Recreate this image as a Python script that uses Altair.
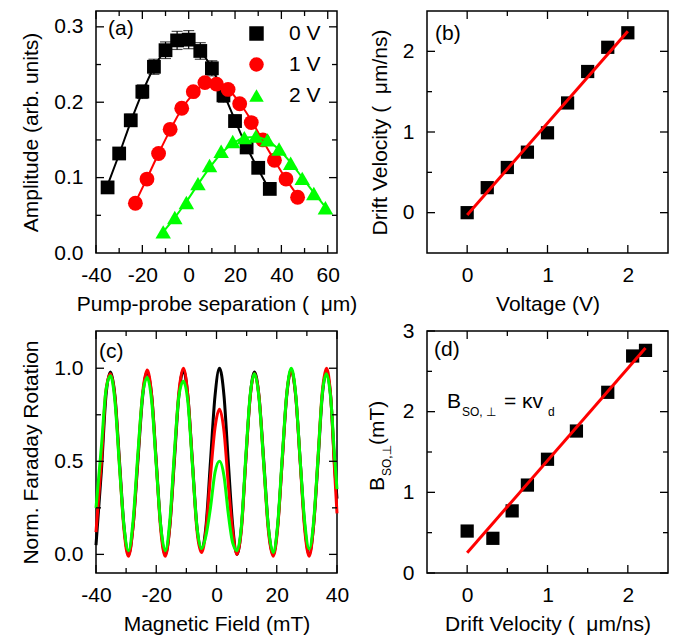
import altair as alt
import pandas as pd

FONT = "Liberation Sans, DejaVu Sans"
FS = 21
SER = ["0 V", "1 V", "2 V"]
COLS = ["#000000", "#ff0000", "#00ff00"]
SHAPES = ["square", "circle", "triangle-up"]
SIZES = [190, 220, 240]
NB = "\u00a0\u00a0"

# ---------------- panel (a) data ----------------
a_x = {
    "0 V": [-35, -30, -25, -20, -15, -10, -5, 0, 5, 10, 15, 20, 25, 30, 35],
    "1 V": [-23, -18, -13, -8, -3, 2, 7, 12, 17, 22, 27, 32, 37, 42, 47],
    "2 V": [-11, -6, -1, 4, 9, 14, 19, 24, 29, 34, 39, 44, 49, 54, 59],
}
a_y = {
    "0 V": [0.087, 0.132, 0.176, 0.214, 0.247, 0.269, 0.282, 0.283, 0.268, 0.245, 0.209, 0.175, 0.140, 0.113, 0.085],
    "1 V": [0.066, 0.098, 0.132, 0.164, 0.192, 0.214, 0.226, 0.224, 0.217, 0.198, 0.173, 0.150, 0.123, 0.098, 0.074],
    "2 V": [0.028, 0.047, 0.067, 0.092, 0.116, 0.135, 0.148, 0.153, 0.155, 0.150, 0.138, 0.119, 0.099, 0.079, 0.060],
}
a_err = {
    "0 V": [0.006, 0.007, 0.008, 0.009, 0.010, 0.011, 0.012, 0.012, 0.011, 0.010, 0.009, 0.008, 0.007, 0.006, 0.006],
    "1 V": [0.005, 0.005, 0.006, 0.006, 0.007, 0.007, 0.007, 0.007, 0.007, 0.007, 0.006, 0.006, 0.005, 0.005, 0.005],
    "2 V": [0.005, 0.005, 0.005, 0.005, 0.006, 0.006, 0.006, 0.006, 0.006, 0.006, 0.006, 0.005, 0.005, 0.005, 0.005],
}
a_fit = {
    "0 V": [0.090, 0.131, 0.174, 0.213, 0.246, 0.269, 0.281, 0.280, 0.268, 0.245, 0.212, 0.176, 0.141, 0.111, 0.083],
    "1 V": [0.067, 0.099, 0.132, 0.163, 0.191, 0.211, 0.224, 0.227, 0.218, 0.199, 0.176, 0.149, 0.123, 0.098, 0.076],
    "2 V": [0.028, 0.047, 0.068, 0.091, 0.113, 0.132, 0.145, 0.153, 0.154, 0.149, 0.137, 0.120, 0.100, 0.080, 0.061],
}

# ---------------- panel (b) data ----------------
b_volt = [0, 0.25, 0.5, 0.75, 1.0, 1.25, 1.5, 1.75, 2.0]
b_vd = [0.0, 0.31, 0.56, 0.75, 0.99, 1.36, 1.75, 2.05, 2.23]
b_fit_x = [0.0, 2.0]
b_fit_y = [-0.03, 2.25]

# ---------------- panel (c) data ----------------
c_x = [-40, -38.2, -36.7, -35.2, -33.7, -32.2, -30.7, -29.2, -27.7, -26.1, -24.5, -23.0,
       -21.5, -20.0, -18.5, -17.0, -15.5, -14.0, -12.5, -11.0, -9.5, -8.0, -6.5, -5.0,
       -3.5, -2.0, -0.5, 1.0, 2.5, 3.9, 5.4, 6.8, 8.3, 9.7, 11.2, 12.6, 14.1, 15.7, 17.2,
       18.8, 20.3, 21.8, 23.3, 24.8, 26.3, 27.8, 29.3, 30.8, 32.2, 33.7, 35.1, 36.5, 37.9,
       39.3, 40]
c_y = {
    "0 V": [0.05, 0.45, 0.85, 0.98, 0.85, 0.5, 0.15, 0.0, 0.15, 0.5, 0.85, 0.98,
            0.85, 0.5, 0.15, 0.0, 0.15, 0.5, 0.85, 0.99, 0.85, 0.5, 0.15, 0.02,
            0.15, 0.5, 0.85, 1.0, 0.85, 0.5, 0.15, 0.0, 0.15, 0.5, 0.85, 0.98, 0.85, 0.5, 0.15,
            0.0, 0.15, 0.5, 0.85, 0.99, 0.85, 0.5, 0.15, 0.0, 0.15, 0.5, 0.85, 0.98, 0.85,
            0.45, 0.30],
    "1 V": [0.12, 0.50, 0.88, 0.97, 0.84, 0.48, 0.13, -0.01, 0.15, 0.52, 0.87, 0.99,
            0.85, 0.49, 0.13, -0.01, 0.15, 0.52, 0.87, 1.0, 0.85, 0.49, 0.13, 0.01,
            0.13, 0.42, 0.68, 0.78, 0.66, 0.38, 0.12, 0.0, 0.14, 0.5, 0.85, 0.97, 0.85, 0.48, 0.13,
            -0.01, 0.14, 0.5, 0.86, 0.99, 0.85, 0.49, 0.13, -0.01, 0.15, 0.52, 0.87, 1.0, 0.85,
            0.42, 0.22],
    "2 V": [0.25, 0.58, 0.88, 0.96, 0.82, 0.47, 0.15, 0.02, 0.18, 0.54, 0.86, 0.95,
            0.82, 0.48, 0.15, 0.02, 0.18, 0.54, 0.85, 0.93, 0.82, 0.48, 0.15, 0.03,
            0.10, 0.25, 0.44, 0.50, 0.42, 0.22, 0.06, 0.02, 0.16, 0.52, 0.86, 0.97, 0.84, 0.48, 0.15,
            0.01, 0.16, 0.52, 0.86, 1.0, 0.86, 0.50, 0.17, 0.03, 0.17, 0.52, 0.86, 0.97, 0.84,
            0.50, 0.35],
}

# ---------------- panel (d) data ----------------
d_vd = [0.0, 0.32, 0.56, 0.75, 1.0, 1.36, 1.75, 2.06, 2.22]
d_b = [0.52, 0.43, 0.77, 1.09, 1.41, 1.76, 2.24, 2.69, 2.76]
d_fit_x = [0.0, 2.22]
d_fit_y = [0.25, 2.79]

W, H = 241, 242


def axis(values, title, fmt=None, expr=None, ext=None, lp=12, tp=8):
    kw = dict(values=values, grid=False, ticks=False, domain=False, labelFlush=False,
              labelPadding=lp, titlePadding=tp, labelOverlap=False, title=title)
    if fmt:
        kw["format"] = fmt
    if expr:
        kw["labelExpr"] = expr
    if ext is not None:
        kw["minExtent"] = ext
        kw["maxExtent"] = ext
    return alt.Axis(**kw)


def tick_layers(xs, ys, xa, ya, xmaj, xmin, ymaj, ymin, L=8, l=5):
    out = []
    for vals, ln in ((xmaj, L), (xmin, l)):
        base = alt.Chart(pd.DataFrame({"v": vals})).mark_rule(color="black", strokeWidth=1.3)
        xe = alt.X("v:Q", scale=xs, axis=xa)
        out.append(base.encode(x=xe, y=alt.value(H), y2=alt.value(H - ln)))
        out.append(base.encode(x=xe, y=alt.value(0), y2=alt.value(ln)))
    for vals, ln in ((ymaj, L), (ymin, l)):
        base = alt.Chart(pd.DataFrame({"v": vals})).mark_rule(color="black", strokeWidth=1.3)
        ye = alt.Y("v:Q", scale=ys, axis=ya)
        out.append(base.encode(y=ye, x=alt.value(0), x2=alt.value(ln)))
        out.append(base.encode(y=ye, x=alt.value(W), x2=alt.value(W - ln)))
    return out


def label(txt, x, y, size=FS, baseline="middle", angle=0):
    kw = dict(align="left", baseline=baseline, fontSize=size, font=FONT, color="black")
    if angle:
        kw["angle"] = angle
    return alt.Chart(pd.DataFrame({"t": [txt]})).mark_text(**kw).encode(
        text="t:N", x=alt.value(x), y=alt.value(y))


color_scale = alt.Scale(domain=SER, range=COLS)
shape_scale = alt.Scale(domain=SER, range=SHAPES)
LEG = dict(title=None, orient="none", legendX=150, legendY=12,
           labelFontSize=FS, labelFont=FONT, labelColor="black",
           symbolSize=210, rowPadding=9, labelOffset=22, padding=0, symbolStrokeWidth=0)

# ---------------- panel (a) ----------------
rows = []
for s in SER:
    for x, y, e, f in zip(a_x[s], a_y[s], a_err[s], a_fit[s]):
        rows.append({"series": s, "x": x, "y": y, "lo": y - e, "hi": y + e, "fit": f})
dfa = pd.DataFrame(rows)
xs_a = alt.Scale(domain=[-40, 64], nice=False, zero=False)
ys_a = alt.Scale(domain=[0, 0.321], nice=False, zero=False)
xa_a = axis([-40, -20, 0, 20, 40, 60], "Pump-probe separation (" + NB + "\u03bcm)", expr="toString(datum.value)", lp=11, tp=8)
ya_a = axis([0, 0.1, 0.2, 0.3], "Amplitude (arb. units)", fmt=".1f", ext=42, lp=13, tp=13)


def XA(f):
    return alt.X(f + ":Q", scale=xs_a, axis=xa_a)


def YA(f):
    return alt.Y(f + ":Q", scale=ys_a, axis=ya_a)


a_layers = []
for i, s in enumerate(SER):
    d = dfa[dfa.series == s]
    a_layers.append(alt.Chart(d).mark_rule(strokeWidth=1.2, color=COLS[i]).encode(
        x=XA("x"), y=YA("lo"), y2="hi:Q"))
    if s == "0 V":
        for fld in ("lo", "hi"):
            a_layers.append(alt.Chart(d).mark_tick(orient="horizontal", size=11, thickness=1.2, color=COLS[i]).encode(
                x=XA("x"), y=YA(fld)))
    a_layers.append(alt.Chart(d).mark_point(filled=True, size=SIZES[i], opacity=1).encode(
        x=XA("x"), y=YA("y"),
        color=alt.Color("series:N", scale=color_scale, legend=alt.Legend(**LEG)),
        shape=alt.Shape("series:N", scale=shape_scale, legend=alt.Legend(**LEG))))
    a_layers.append(alt.Chart(d).mark_line(strokeWidth=2, interpolate="monotone", color=COLS[i]).encode(
        x=XA("x"), y=YA("fit")))

a_layers += tick_layers(xs_a, ys_a, xa_a, ya_a, [-40, -20, 0, 20, 40, 60], [-30, -10, 10, 30, 50],
                        [0.1, 0.2, 0.3], [0.05, 0.15, 0.25])
a_layers.append(label("(a)", 12, 18))
chart_a = alt.layer(*a_layers).properties(width=W, height=H)

# ---------------- panel (b) ----------------
dfb = pd.DataFrame({"x": b_volt, "y": b_vd})
dfbf = pd.DataFrame({"x": b_fit_x, "y": b_fit_y})
xs_b = alt.Scale(domain=[-0.5, 2.5], nice=False, zero=False)
ys_b = alt.Scale(domain=[-0.5, 2.5], nice=False, zero=False)
xa_b = axis([0, 1, 2], "Voltage (V)", fmt="d", lp=11, tp=8)
ya_b = axis([0, 1, 2], "Drift Velocity (" + NB + "\u03bcm/ns)", fmt="d", ext=25, lp=13, tp=12)
b_layers = [
    alt.Chart(dfb).mark_point(shape="square", filled=True, size=175, color="black", opacity=1).encode(
        x=alt.X("x:Q", scale=xs_b, axis=xa_b), y=alt.Y("y:Q", scale=ys_b, axis=ya_b)),
    alt.Chart(dfbf).mark_line(color="#ff0000", strokeWidth=3).encode(
        x=alt.X("x:Q", scale=xs_b, axis=xa_b), y=alt.Y("y:Q", scale=ys_b, axis=ya_b)),
]
b_layers += tick_layers(xs_b, ys_b, xa_b, ya_b, [0, 1, 2], [0.5, 1.5], [0, 1, 2], [0.5, 1.5])
b_layers.append(label("(b)", 8, 23))
chart_b = alt.layer(*b_layers).properties(width=W, height=H)

# ---------------- panel (c) ----------------
xs_c = alt.Scale(domain=[-40, 40], nice=False, zero=False)
ys_c = alt.Scale(domain=[-0.1, 1.2], nice=False, zero=False)
xa_c = axis([-40, -20, 0, 20, 40], "Magnetic Field (mT)", expr="toString(datum.value)", lp=11, tp=8)
ya_c = axis([0, 0.5, 1.0], "Norm. Faraday Rotation", fmt=".1f", ext=42, lp=13, tp=13)
c_layers = []
for i, s in enumerate(SER):
    dfc = pd.DataFrame({"x": c_x, "y": c_y[s]})
    c_layers.append(alt.Chart(dfc).mark_line(color=COLS[i], strokeWidth=3, interpolate="monotone").encode(
        x=alt.X("x:Q", scale=xs_c, axis=xa_c), y=alt.Y("y:Q", scale=ys_c, axis=ya_c)))
c_layers += tick_layers(xs_c, ys_c, xa_c, ya_c, [-40, -20, 0, 20, 40], [-30, -10, 10, 30],
                        [0, 0.5, 1.0], [0.25, 0.75])
c_layers.append(label("(c)", 3, 21))
chart_c = alt.layer(*c_layers).properties(width=W, height=H)

# ---------------- panel (d) ----------------
dfd = pd.DataFrame({"x": d_vd, "y": d_b})
dfdf = pd.DataFrame({"x": d_fit_x, "y": d_fit_y})
xs_d = alt.Scale(domain=[-0.5, 2.5], nice=False, zero=False)
ys_d = alt.Scale(domain=[0, 3], nice=False, zero=False)
xa_d = axis([0, 1, 2], "Drift Velocity (" + NB + "\u03bcm/ns)", fmt="d", lp=11, tp=8)
ya_d = axis([0, 1, 2, 3], None, fmt="d", ext=25, lp=13, tp=10)
d_layers = [
    alt.Chart(dfd).mark_point(shape="square", filled=True, size=175, color="black", opacity=1).encode(
        x=alt.X("x:Q", scale=xs_d, axis=xa_d), y=alt.Y("y:Q", scale=ys_d, axis=ya_d)),
    alt.Chart(dfdf).mark_line(color="#ff0000", strokeWidth=3).encode(
        x=alt.X("x:Q", scale=xs_d, axis=xa_d), y=alt.Y("y:Q", scale=ys_d, axis=ya_d)),
]
d_layers += tick_layers(xs_d, ys_d, xa_d, ya_d, [0, 1, 2], [0.5, 1.5], [0, 1, 2, 3], [0.5, 1.5, 2.5])
d_layers += [
    label("(d)", 7, 19),
    label("B", 20, 77, baseline="alphabetic"),
    label("SO,\u00a0\u22a5", 35, 85, size=12, baseline="alphabetic"),
    label("= \u03bav", 77, 77, baseline="alphabetic"),
    label("d", 121, 85, size=12, baseline="alphabetic"),
    label("B", -43, 160, baseline="alphabetic", angle=270),
    label("SO,\u22a5", -36, 145, size=12, baseline="alphabetic", angle=270),
    label("(mT)", -43, 114, baseline="alphabetic", angle=270),
]
chart_d = alt.layer(*d_layers).properties(width=W, height=H)

chart = alt.concat(chart_a, chart_b, chart_c, chart_d, columns=2,
                   spacing=alt.RowColnumber(row=78, column=90), bounds="flush").properties(
    padding={"left": 19, "top": 9, "right": 5, "bottom": 5}
).configure_view(stroke="black", strokeWidth=1.5).configure_axis(
    labelFont=FONT, labelFontSize=FS, labelColor="black",
    titleFont=FONT, titleFontSize=FS, titleColor="black", titleFontWeight="normal"
).configure_text(font=FONT)

chart.save("out.html", embed_options={"renderer": "svg", "actions": False})
